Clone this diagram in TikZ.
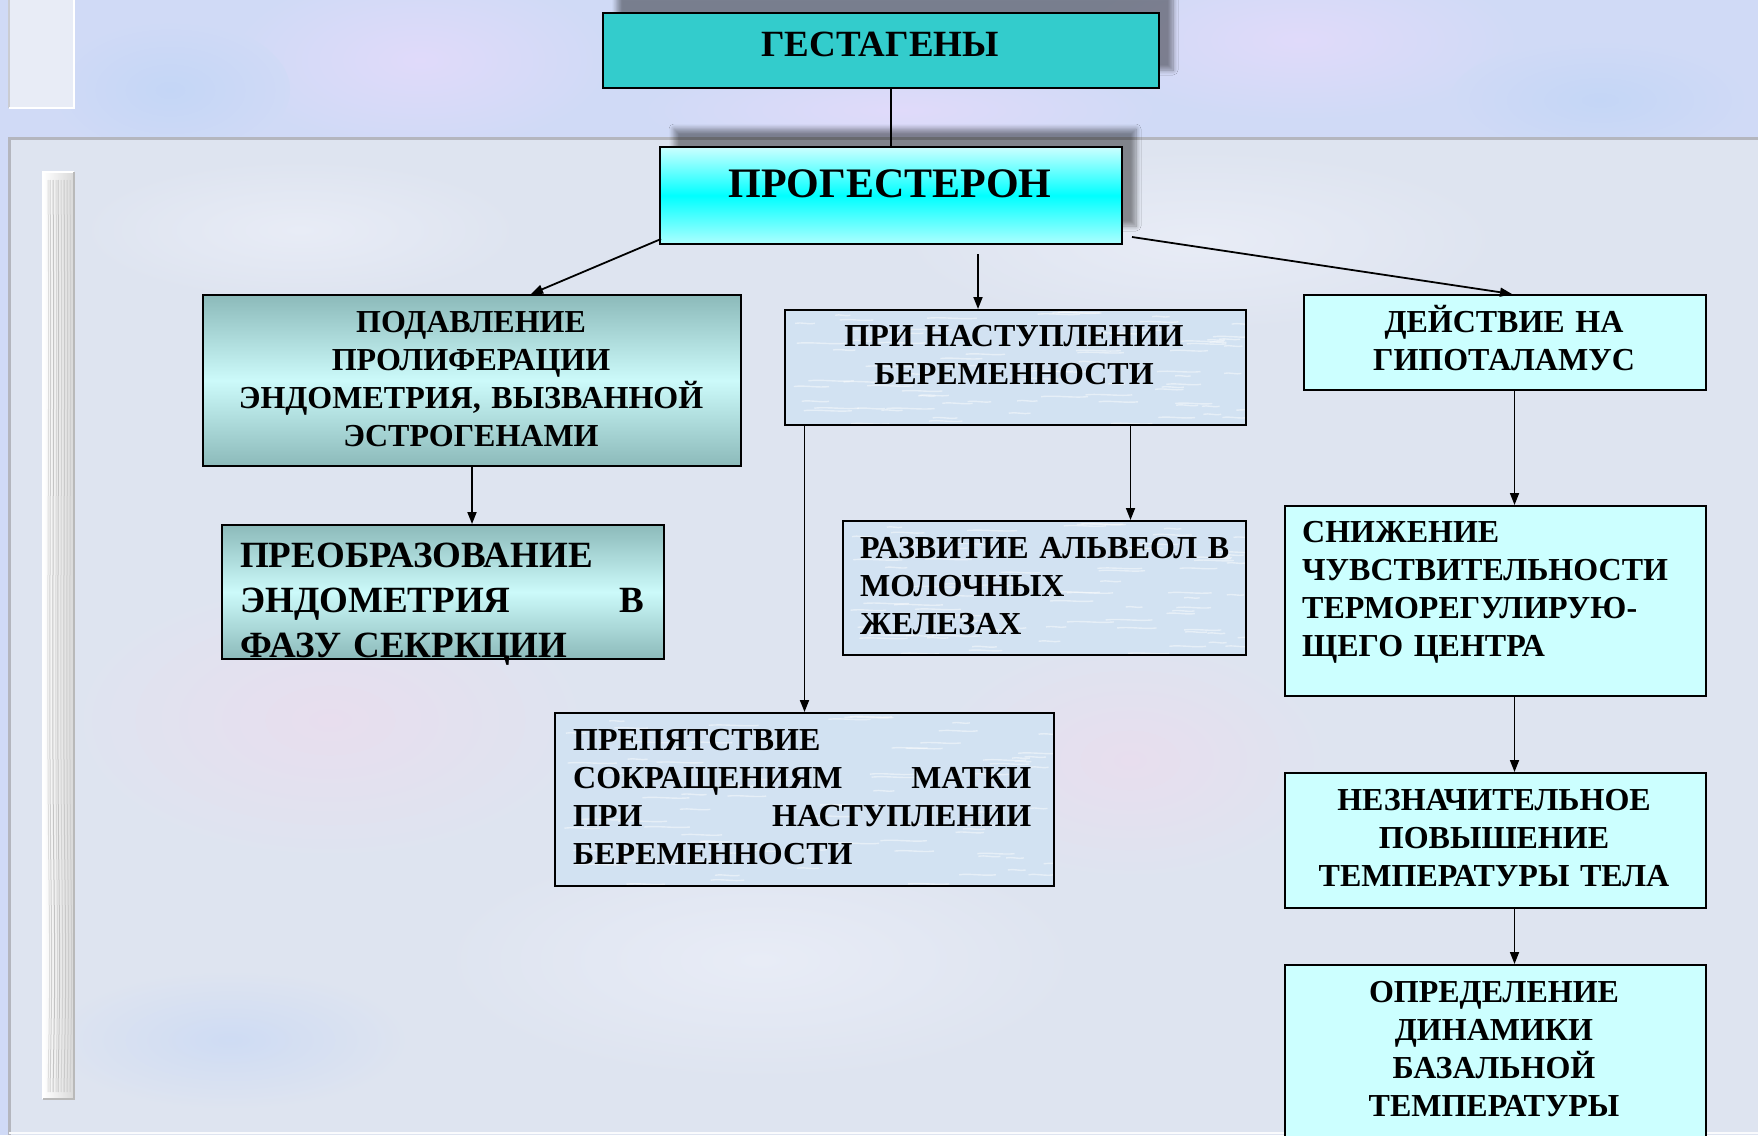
\documentclass[tikz,border=0pt]{standalone}
\usepackage{fontspec}
\setmainfont{Liberation Serif}
\usetikzlibrary{arrows.meta,calc,shadows.blur}

\definecolor{bgtop}{RGB}{208,218,246}
\definecolor{bglav}{RGB}{224,218,250}
\definecolor{bgblue}{RGB}{196,214,246}
\definecolor{bgpanel}{RGB}{222,228,240}
\definecolor{bgpink}{RGB}{232,222,238}
\definecolor{bgpale}{RGB}{232,236,246}
\definecolor{teal1}{RGB}{51,204,204}
\definecolor{paleaqua}{RGB}{204,255,255}
\definecolor{aquamid}{RGB}{0,255,255}
\definecolor{tealgray}{RGB}{140,186,186}
\definecolor{tealpale}{RGB}{204,250,250}
\definecolor{water}{RGB}{210,226,242}
\definecolor{panelline}{RGB}{180,182,190}

\newcommand\jfill{\hskip 0pt plus 1filll\relax}

\tikzset{
  bx/.style={draw=black, line width=2pt, inner sep=0pt, anchor=north west},
  txt/.style={font=\bfseries\fontsize{32}{38}\selectfont, inner sep=0pt, text=black},
  bigtxt/.style={font=\bfseries\fontsize{37}{45}\selectfont, inner sep=0pt, text=black},
  arr/.style={line width=1.8pt, -{Triangle[length=12pt,width=9pt]}},
  link/.style={line width=1.8pt},
  topshadow/.style={blur shadow={shadow xshift=14pt, shadow yshift=18pt,
      shadow opacity=42, shadow blur radius=5pt, shadow blur steps=8}},
  tealgrad/.style={top color=tealgray, bottom color=tealgray, middle color=tealpale},
  aquagrad/.style={top color=paleaqua, bottom color=paleaqua!85!aquamid, middle color=aquamid},
  % light blue fill with faint white ripples
  waterbox/.style={fill=water, path picture={
      \pgfmathsetseed{17}
      \coordinate (wa) at (path picture bounding box.north west);
      \coordinate (wb) at (path picture bounding box.south east);
      \foreach \i in {1,...,80}{
        \pgfmathsetmacro\px{rnd}
        \pgfmathsetmacro\py{rnd}
        \pgfmathsetmacro\pl{15+35*rnd}
        \draw[white, opacity=0.45, line width=1.4pt]
          let \p1=(wa), \p2=(wb) in
          ({\x1+\px*(\x2-\x1)},{\y1+\py*(\y2-\y1)})
          .. controls +(0.3*\pl pt,1.5pt) and +(-0.3*\pl pt,-1.5pt) .. +(\pl pt,0pt);
      }}},
}

\begin{document}
\begin{tikzpicture}[x=1pt,y=-1pt]
\useasboundingbox (0,0) rectangle (1758,1135);

% ---------- background ----------
\fill[bgtop] (0,0) rectangle (1758,1135);
\begin{scope}
  \clip (0,0) rectangle (1758,138);
  \shade[inner color=bglav, outer color=bgtop] (420,60) ellipse (190 and 90);
  \shade[inner color=bglav, outer color=bgtop] (1300,40) ellipse (220 and 80);
  \shade[inner color=bgblue, outer color=bgtop] (170,90) ellipse (120 and 70);
  \shade[inner color=bgblue, outer color=bgtop] (1600,100) ellipse (150 and 60);
  \shade[inner color=bglav, outer color=bgtop] (900,110) ellipse (260 and 50);
\end{scope}
\fill[bgpanel] (9,138) rectangle (1758,1135);
\begin{scope}
  \clip (9,138) rectangle (1758,1135);
  \shade[inner color=bgpink, outer color=bgpanel] (330,720) ellipse (260 and 140);
  \shade[inner color=bgpale, outer color=bgpanel] (760,960) ellipse (320 and 120);
  \shade[inner color=bgpale, outer color=bgpanel] (1200,240) ellipse (300 and 90);
  \shade[inner color=bgpink, outer color=bgpanel] (1130,760) ellipse (200 and 120);
  \shade[inner color=bgblue!60!bgpanel, outer color=bgpanel] (230,1040) ellipse (180 and 70);
  \shade[inner color=bgpale, outer color=bgpanel] (300,230) ellipse (220 and 70);
\end{scope}
\draw[panelline, line width=3pt] (9,1135) -- (9,138) -- (1758,138);
\draw[white!85!bgpanel, line width=2pt] (9,1133) -- (1758,1133);

% small frame at the top left
\fill[bgpale] (9,0) rectangle (74,108);
\draw[panelline!70, line width=1.5pt] (9,0) -- (9,108);
\draw[white, line width=2.5pt] (74,0) -- (74,108) -- (9,108);

% textured side bar
\shade[left color=white, right color=gray!30] (43,172) rectangle (74,1099);
\foreach \xx/\op in {48/0.3,50/0.45,53/0.55,56/0.3,58/0.5,61/0.3,64/0.4,67/0.3,70/0.25}{
  \draw[gray!75, line width=1pt, opacity=\op]
    (\xx,180) .. controls (\xx+2,420) and (\xx-2,650) .. (\xx+1,880)
    .. controls (\xx+2,980) .. (\xx,1092);
}
\draw[white, line width=2.5pt] (43,1099) -- (43,172) -- (74,172);
\draw[gray!55, line width=1.5pt] (74,172) -- (74,1099) -- (43,1099);

% ---------- boxes ----------
\node[bx, fill=teal1, topshadow, minimum width=556pt, minimum height=75pt] (gest) at (602,12) {};
\node[bx, aquagrad, topshadow, minimum width=462pt, minimum height=97pt] (prog) at (659,146) {};

\node[bx, tealgrad, minimum width=538pt, minimum height=171pt] (podav) at (202,294) {};
\node[bx, tealgrad, minimum width=442pt, minimum height=134pt] (preobr) at (221,524) {};

\node[bx, waterbox, minimum width=461pt, minimum height=115pt] (pri) at (784,309) {};
\node[bx, waterbox, minimum width=403pt, minimum height=134pt] (razv) at (842,520) {};
\node[bx, waterbox, minimum width=499pt, minimum height=173pt] (prep) at (554,712) {};

\node[bx, fill=paleaqua, minimum width=402pt, minimum height=95pt] (deistv) at (1303,294) {};
\node[bx, fill=paleaqua, minimum width=421pt, minimum height=190pt] (sniz) at (1284,505) {};
\node[bx, fill=paleaqua, minimum width=421pt, minimum height=135pt] (nezn) at (1284,772) {};
\node[bx, fill=paleaqua, minimum width=421pt, minimum height=190pt] (opred) at (1284,964) {};

% ---------- texts (anchored at the first baseline) ----------
\node[font=\bfseries\fontsize{37}{40}\selectfont, inner sep=0pt, anchor=base] (gest-t) at (880,56) {ГЕСТАГЕНЫ};
\node[font=\bfseries\fontsize{42}{46}\selectfont, inner sep=0pt, anchor=base] (prog-t) at (890,197) {ПРОГЕСТЕРОН};

\node[txt, text width=520pt, align=center, anchor=base] (podav-t) at (471,332)
  {ПОДАВЛЕНИЕ\\ПРОЛИФЕРАЦИИ\\ЭНДОМЕТРИЯ, ВЫЗВАННОЙ\\ЭСТРОГЕНАМИ};
\node[bigtxt, text width=404pt, align=left, anchor=base west] (preobr-t) at (240,567)
  {ПРЕОБРАЗОВАНИЕ\\ЭНДОМЕТРИЯ\jfill В\\ФАЗУ СЕКРКЦИИ};

\node[txt, text width=440pt, align=center, anchor=base] (pri-t) at (1014,346)
  {ПРИ НАСТУПЛЕНИИ\\БЕРЕМЕННОСТИ};
\node[txt, text width=380pt, align=left, anchor=base west] (razv-t) at (860,558)
  {РАЗВИТИЕ АЛЬВЕОЛ В\\МОЛОЧНЫХ\\ЖЕЛЕЗАХ};
\node[txt, text width=458pt, align=left, anchor=base west] (prep-t) at (573,750)
  {ПРЕПЯТСТВИЕ\\СОКРАЩЕНИЯМ\jfill МАТКИ\\ПРИ\jfill НАСТУПЛЕНИИ\\БЕРЕМЕННОСТИ};

\node[txt, text width=390pt, align=center, anchor=base] (deistv-t) at (1504,332)
  {ДЕЙСТВИЕ НА\\ГИПОТАЛАМУС};
\node[txt, text width=400pt, align=left, anchor=base west] (sniz-t) at (1302,542)
  {СНИЖЕНИЕ\\ЧУВСТВИТЕЛЬНОСТИ\\ТЕРМОРЕГУЛИРУЮ-\\ЩЕГО ЦЕНТРА};
\node[txt, text width=410pt, align=center, anchor=base] (nezn-t) at (1494,810)
  {НЕЗНАЧИТЕЛЬНОЕ\\ПОВЫШЕНИЕ\\ТЕМПЕРАТУРЫ ТЕЛА};
\node[txt, text width=410pt, align=center, anchor=base] (opred-t) at (1494,1002)
  {ОПРЕДЕЛЕНИЕ\\ДИНАМИКИ\\БАЗАЛЬНОЙ\\ТЕМПЕРАТУРЫ};

% ---------- connectors ----------
\coordinate (midcol) at ($(prog.south)+(87,9)$);
\coordinate (rcol) at ($(sniz.north)+(19,0)$);
\coordinate (pricol) at ($(pri.south)+(115,0)$);

\draw[link] (gest.south -| prog.north) -- (prog.north);
\draw[arr] ($(prog.south west)+(2,-6)$) -- ($(podav.north)+(59,0)$);
\draw[arr] (midcol) -- (midcol |- pri.north);
\draw[arr] ($(prog.south east)+(9,-8)$) -- ($(deistv.north)+(7,0)$);

\draw[arr] (podav.south) -- (podav.south |- preobr.north);
\draw[arr] (pricol) -- (pricol |- razv.north);
\draw[arr] (prep.north |- pri.south) -- (prep.north);

\draw[arr] (deistv.south -| rcol) -- (rcol);
\draw[arr] (sniz.south -| rcol) -- (nezn.north -| rcol);
\draw[arr] (nezn.south -| rcol) -- (opred.north -| rcol);
\end{tikzpicture}
\end{document}
